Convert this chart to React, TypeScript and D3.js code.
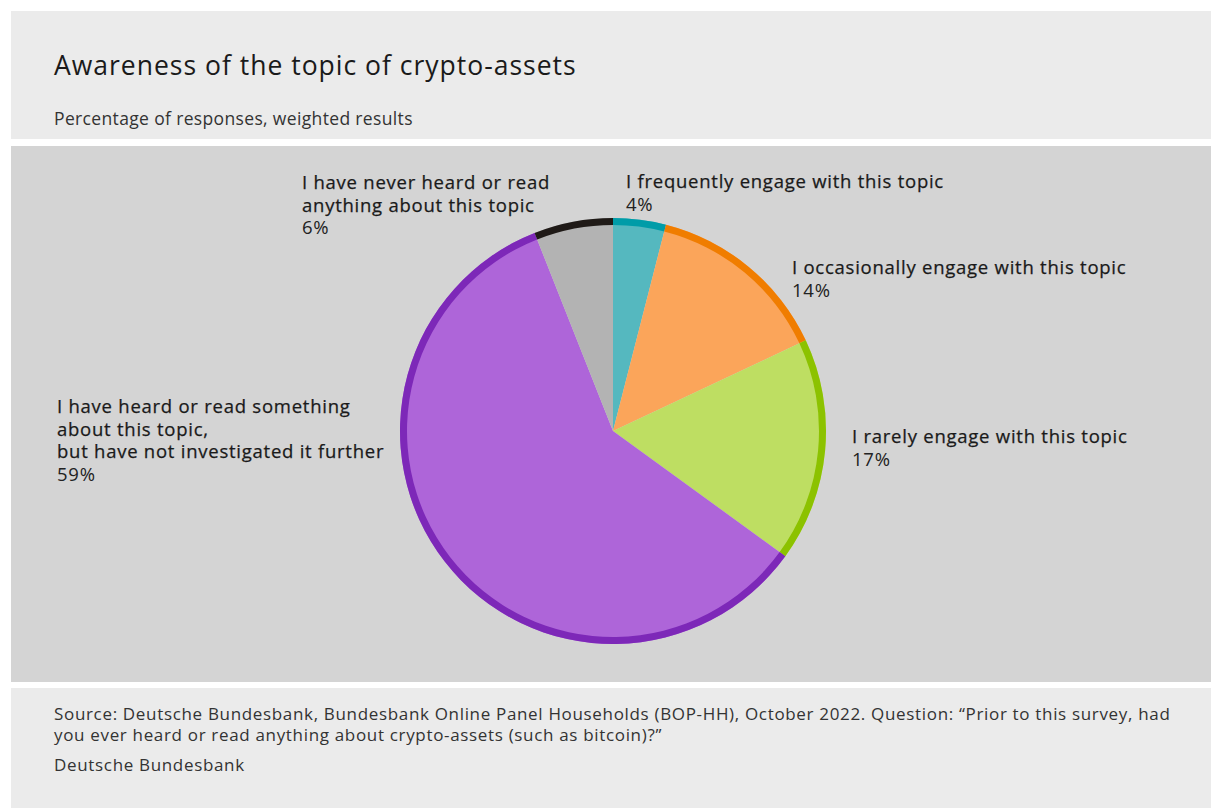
import React from "react";
import * as d3 from "d3";

const categories = [
  "I frequently engage with this topic",
  "I occasionally engage with this topic",
  "I rarely engage with this topic",
  "I have heard or read something about this topic, but have not investigated it further",
  "I have never heard or read anything about this topic",
];
const values = [4, 14, 17, 59, 6];
const fillColors = ["#55b8bf", "#fba55a", "#bede62", "#ae65d9", "#b3b3b3"];
const ringColors = ["#009ca8", "#f07d00", "#8cc200", "#7d28b8", "#1f1a17"];
const labelLines = [
  ["I frequently engage with this topic"],
  ["I occasionally engage with this topic"],
  ["I rarely engage with this topic"],
  ["I have heard or read something", "about this topic,", "but have not investigated it further"],
  ["I have never heard or read", "anything about this topic"],
];
const labelPos = [
  [626, 188],
  [792, 274],
  [852, 443],
  [57, 413],
  [302, 189],
];

const title = "Awareness of the topic of crypto-assets";
const subtitle = "Percentage of responses, weighted results";
const sourceLines = [
  "Source: Deutsche Bundesbank, Bundesbank Online Panel Households (BOP-HH), October 2022. Question: \u201CPrior to this survey, had",
  "you ever heard or read anything about crypto-assets (such as bitcoin)?\u201D",
];
const publisher = "Deutsche Bundesbank";

export default function App() {
  const W = 1211;
  const H = 808;
  const cx = 613;
  const cy = 431;
  const r = 213;
  const ring = 7;
  const font = "'Open Sans', 'Noto Sans', sans-serif";
  const pie = d3.pie<number>().sort(null).value((d) => d)(values);
  const fillArc = d3.arc<d3.PieArcDatum<number>>().innerRadius(0).outerRadius(r);
  const ringArc = d3.arc<d3.PieArcDatum<number>>().innerRadius(r - ring).outerRadius(r);
  const lh = 22.5;

  return (
    <svg
      width={W}
      height={H}
      style={{ position: "absolute", left: 0, top: 0, display: "block" }}
      fontFamily={font}
    >
      <rect x={0} y={0} width={W} height={H} fill="#ffffff" />
      <rect x={11} y={11} width={W - 11} height={128} fill="#ebebeb" />
      <rect x={11} y={146} width={W - 11} height={536} fill="#d4d4d4" />
      <rect x={11} y={688} width={W - 11} height={H - 688} fill="#ebebeb" />

      <text x={54} y={75} fontSize={26.5} letterSpacing={1} fill="#1a1a1a" fontWeight={500}>
        {title}
      </text>
      <text x={54} y={125} fontSize={17.5} letterSpacing={0.35} fill="#333">
        {subtitle}
      </text>

      <g transform={`translate(${cx},${cy})`}>
        {pie.map((p, i) => (
          <path key={"f" + i} d={fillArc(p) || ""} fill={fillColors[i]} />
        ))}
        {pie.map((p, i) => (
          <path key={"r" + i} d={ringArc(p) || ""} fill={ringColors[i]} />
        ))}
      </g>

      {labelLines.map((lines, i) => (
        <g key={"l" + i}>
          {lines.map((ln, j) => (
            <text
              key={j}
              x={labelPos[i][0]}
              y={labelPos[i][1] + j * lh}
              fontSize={18.5}
              letterSpacing={0.75}
              fontWeight={500}
              fill="#1a1a1a"
              stroke="#1a1a1a"
              strokeWidth={0.25}
            >
              {ln}
            </text>
          ))}
          <text
            x={labelPos[i][0]}
            y={labelPos[i][1] + lines.length * lh}
            fontSize={18.5}
            letterSpacing={0.75}
            fontWeight={400}
            fill="#222"
          >
            {values[i] + "%"}
          </text>
        </g>
      ))}

      {sourceLines.map((s, i) => (
        <text key={"s" + i} x={54} y={720 + i * 21} fontSize={17} letterSpacing={0.67} fill="#333">
          {s}
        </text>
      ))}
      <text x={54} y={771} fontSize={17} letterSpacing={0.67} fill="#333">
        {publisher}
      </text>
    </svg>
  );
}
